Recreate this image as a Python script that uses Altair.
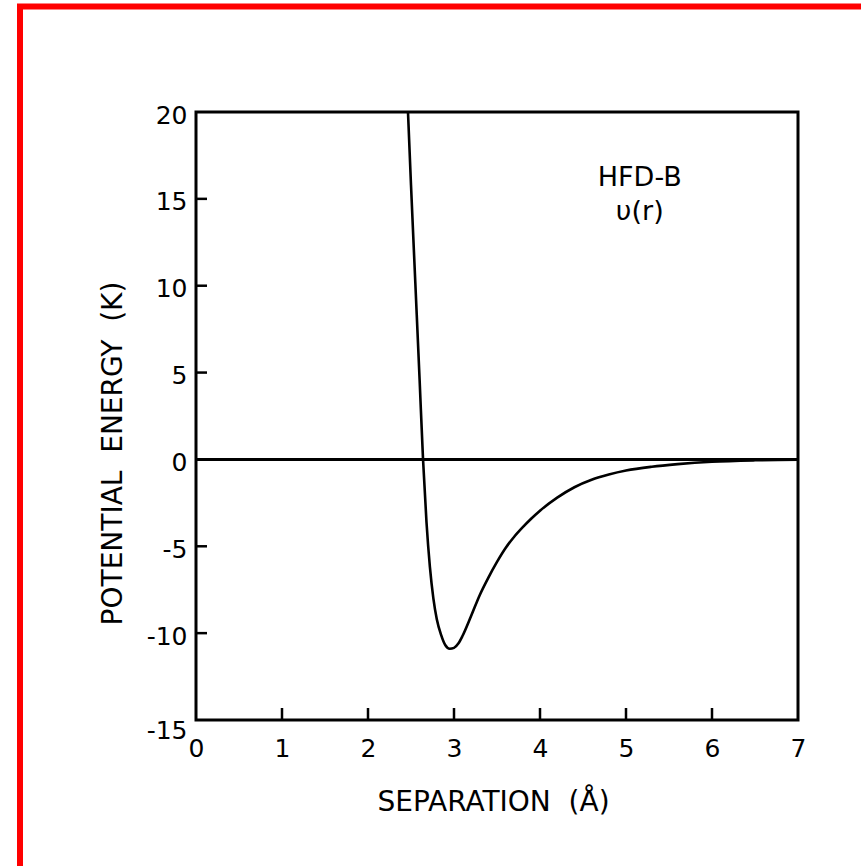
import altair as alt
import pandas as pd

# HFD-B helium pair potential
r_vals = [2.465, 2.50, 2.55, 2.60, 2.64, 2.68, 2.72, 2.76, 2.80, 2.85, 2.90, 2.95,
          3.00, 3.05, 3.10, 3.20, 3.30, 3.40, 3.50, 3.60, 3.70, 3.80, 3.90, 4.00,
          4.20, 4.40, 4.60, 4.80, 5.00, 5.30, 5.60, 6.00, 6.50, 7.00]
v_vals = [20.0, 15.8, 10.2, 4.6, 0.0, -3.6, -6.2, -8.0, -9.2, -10.1, -10.7, -10.9,
          -10.85, -10.6, -10.15, -9.0, -7.8, -6.8, -5.9, -5.1, -4.45, -3.9, -3.4, -2.95,
          -2.2, -1.6, -1.17, -0.87, -0.64, -0.42, -0.27, -0.13, -0.05, -0.02]

x_ticks = [0, 1, 2, 3, 4, 5, 6, 7]
y_ticks = [-15, -10, -5, 0, 5, 10, 15, 20]
x_inner_ticks = [1, 2, 3, 4, 5, 6]
y_inner_ticks = [-10, -5, 5, 10, 15]

label_lines = ["HFD-B", "υ(r)"]
label_r = [5.16, 5.16]
label_v = [16.2, 14.25]

W, H = 602, 608
FONT = "DejaVu Sans"
SP = "\u00a0\u00a0"

curve_df = pd.DataFrame({"r": r_vals, "v": v_vals})

xscale = alt.Scale(domain=[0, 7], nice=False, zero=False)
yscale = alt.Scale(domain=[-15, 20], nice=False, zero=False)

x_axis = alt.Axis(
    values=x_ticks, ticks=False, domain=False, grid=False,
    labelFont=FONT, labelFontSize=25, labelColor="black", labelPadding=16,
    labelFlush=False, labelOverlap=False, labelExpr="'' + datum.value",
    title="SEPARATION" + SP + "(Å)", titleFont=FONT, titleFontSize=28, titleFontWeight="normal",
    titleColor="black", titleX=297, titleY=90, titleAlign="center",
    titleBaseline="alphabetic", titleAnchor="middle",
)
y_axis = alt.Axis(
    values=y_ticks, ticks=False, domain=False, grid=False,
    labelFont=FONT, labelFontSize=25, labelColor="black", labelPadding=9,
    labelFlush=False, labelOverlap=False, labelExpr="'' + datum.value",
    labelBaseline="middle",
    labelOffset={"condition": {"test": "datum.value == -15", "value": 10}, "value": 3},
    title="POTENTIAL" + SP + "ENERGY" + SP + "(K)", titleFont=FONT, titleFontSize=28,
    titleFontWeight="normal", titleColor="black", titleAngle=270,
    titleX=-75, titleY=341, titleAlign="center", titleBaseline="alphabetic",
    titleAnchor="middle",
)

curve = alt.Chart(curve_df).mark_line(
    color="black", strokeWidth=2.6, interpolate="monotone", clip=True
).encode(
    x=alt.X("r:Q", scale=xscale, axis=x_axis),
    y=alt.Y("v:Q", scale=yscale, axis=y_axis),
)

zero_line = alt.Chart(pd.DataFrame({"v": [0]})).mark_rule(
    color="black", strokeWidth=3
).encode(
    y=alt.Y("v:Q", scale=yscale),
    x=alt.value(0), x2=alt.value(W),
)

yt = alt.Chart(pd.DataFrame({"v": y_inner_ticks})).mark_rule(
    color="black", strokeWidth=2.5
).encode(
    y=alt.Y("v:Q", scale=yscale),
    x=alt.value(0), x2=alt.value(11),
)

xt = alt.Chart(pd.DataFrame({"r": x_inner_ticks})).mark_rule(
    color="black", strokeWidth=2.5
).encode(
    x=alt.X("r:Q", scale=xscale),
    y=alt.value(H), y2=alt.value(H - 12),
)

ann = alt.Chart(pd.DataFrame({"t": label_lines, "r": label_r, "v": label_v})).mark_text(
    font=FONT, fontSize=27, color="black", align="center", baseline="middle"
).encode(
    x=alt.X("r:Q", scale=xscale),
    y=alt.Y("v:Q", scale=yscale),
    text="t:N",
)

one = pd.DataFrame({"a": [0]})
red_left = alt.Chart(one).mark_rule(color="#ff0000", strokeWidth=6).encode(
    x=alt.value(-176), y=alt.value(-108), y2=alt.value(760)
)
red_top = alt.Chart(one).mark_rule(color="#ff0000", strokeWidth=6).encode(
    x=alt.value(-179), x2=alt.value(670), y=alt.value(-105.5)
)

chart = alt.layer(red_left, red_top, zero_line, yt, xt, curve, ann).properties(
    width=W, height=H,
    autosize=alt.AutoSizeParams(type="none"),
    padding={"left": 196, "top": 112, "right": 63, "bottom": 146},
    background="white",
).configure_view(
    stroke="black", strokeWidth=3
)

chart.save("out.html", embed_options={"renderer": "svg", "actions": False})
